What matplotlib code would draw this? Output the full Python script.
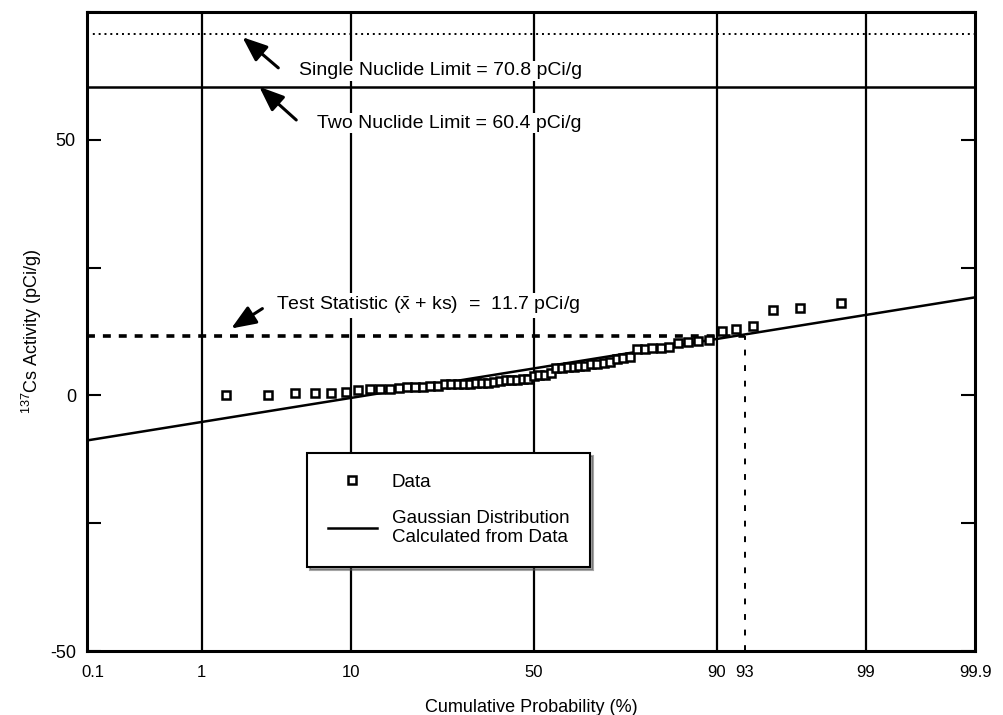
from statistics import NormalDist

import matplotlib
matplotlib.use("Agg")
import matplotlib.pyplot as plt
import numpy as np
from matplotlib.lines import Line2D

plt.rcParams['font.family'] = ['Liberation Sans', 'DejaVu Sans']
plt.rcParams['mathtext.fontset'] = 'custom'
plt.rcParams['mathtext.rm'] = 'Liberation Sans'
plt.rcParams['mathtext.default'] = 'regular'

# plotting position of each sample (rank / (n + 1)), in percent
n_samples = 63
data_rank = np.arange(1, n_samples + 1)
data_pct = data_rank / (n_samples + 1) * 100

# 137Cs activity, pCi/g
data_val = [
    0.0, 0.1, 0.5, 0.5, 0.5, 0.6,
    1.1, 1.2, 1.2, 1.3, 1.5, 1.6, 1.6, 1.7, 1.8, 1.9,
    2.2, 2.2, 2.3, 2.3, 2.3, 2.4, 2.4, 2.5, 2.6,
    2.9, 3.0, 3.0, 3.1, 3.2, 3.3,
    3.9, 4.0, 4.1, 4.3,
    5.3, 5.4, 5.5, 5.6, 5.7, 5.8,
    6.1, 6.2, 6.3, 6.5,
    7.2, 7.4, 7.6,
    9.0, 9.1, 9.2, 9.3, 9.5,
    10.2, 10.4, 10.6, 10.9,
    12.7, 13.1, 13.5, 16.8, 17.2, 18.0,
]

# fitted Gaussian: straight on a probability axis, given by its ends
gauss_pct = [0.0874, 99.9]
gauss_val = [-8.8, 19.2]

single_limit = 70.8
two_limit = 60.4
test_stat = 11.7
test_pct = 93

grid_pct = [1, 10, 50, 90, 99]
xtick_pct = [0.1, 1, 10, 50, 90, 93, 99, 99.9]
xtick_lbl = ['0.1', '1', '10', '50', '90', '93', '99', '99.9']

# (label, arrow tip, arrow tail, text anchor) in (percent, pCi/g)
notes = [
    ('Single Nuclide Limit = 70.8 pCi/g', (2.06, 70.1), (3.67, 64.1), (5.0, 63.5)),
    ('Two Nuclide Limit = 60.4 pCi/g', (2.72, 60.4), (4.8, 53.9), (6.4, 53.3)),
    (r'Test Statistic ($\bar{\mathrm{x}}$ + ks)  =  11.7 pCi/g',
     (1.70, 13.1), (2.86, 17.0), (3.56, 17.6)),
]

_nd = NormalDist()
_ppf = np.vectorize(lambda p: _nd.inv_cdf(min(max(p / 100.0, 1e-9), 1 - 1e-9)),
                    otypes=[float])
_cdf = np.vectorize(lambda z: _nd.cdf(z) * 100.0, otypes=[float])


def to_z(p):
    return _ppf(np.asarray(p, dtype=float))


def from_z(z):
    return _cdf(np.asarray(z, dtype=float))


fig = plt.figure(figsize=(10.04, 7.15), dpi=100)
ax = fig.add_axes([0.0867, 0.0895, 0.8845, 0.8935])
ax.set_xscale('function', functions=(to_z, from_z))
ax.set_xlim(gauss_pct[0], 99.9)
ax.set_ylim(-50, 75)

for p in grid_pct:
    ax.axvline(p, color='black', lw=1.6, zorder=1)

ax.axhline(single_limit, color='black', lw=1.4, ls=(0, (1, 2)), zorder=2)
ax.axhline(two_limit, color='black', lw=1.8, zorder=2)
ax.plot([gauss_pct[0], test_pct], [test_stat, test_stat], color='black',
        lw=2.6, ls=(0, (2.2, 2.2)), zorder=2)
ax.plot([test_pct, test_pct], [-50, test_stat], color='black',
        lw=1.4, ls=(0, (3, 5)), zorder=2)

ax.plot(gauss_pct, gauss_val, color='black', lw=1.8, zorder=3)
ax.plot(data_pct, data_val, ls='none', marker='s', ms=5.5, mfc='white',
        mec='black', mew=1.8, zorder=4)

for label, tip, tail, anchor in notes:
    ax.annotate('', xy=tip, xytext=tail,
                arrowprops=dict(arrowstyle='-|>,head_length=0.75,head_width=0.3',
                                color='black', lw=2.2, shrinkA=0, shrinkB=0,
                                mutation_scale=20))
    ax.text(anchor[0], anchor[1], label, fontsize=14, va='center', ha='left',
            zorder=3, bbox=dict(facecolor='white', edgecolor='none', pad=1))

ax.set_xticks(xtick_pct)
ax.set_xticklabels(xtick_lbl)
ax.tick_params(axis='x', length=0, pad=10, labelsize=12)
ax.set_yticks([-50, -25, 0, 25, 50, 75])
ax.set_yticklabels(['-50', '', '0', '', '50', ''])
ax.tick_params(axis='y', direction='in', length=10, width=1.5, right=True,
               labelsize=13, pad=8)
for s in ax.spines.values():
    s.set_linewidth(2.2)

ax.set_xlabel('Cumulative Probability (%)', fontsize=13, labelpad=14)
ax.set_ylabel('$^{137}$Cs Activity (pCi/g)', fontsize=13, labelpad=4)

handles = [
    Line2D([], [], ls='none', marker='s', ms=5.5, mfc='white', mec='black', mew=1.8),
    Line2D([], [], color='black', lw=1.8),
]
leg = ax.legend(handles, ['Data', 'Gaussian Distribution\nCalculated from Data'],
                loc='upper left', bbox_to_anchor=(0.2376, 0.3245), fontsize=13.5,
                frameon=True, fancybox=False, shadow=True, edgecolor='black',
                framealpha=1, borderpad=1.1, labelspacing=1.0, handlelength=2.6,
                handletextpad=0.8)
leg.get_frame().set_linewidth(1.5)
leg.set_zorder(5)

fig.savefig('out.png', dpi=100)
